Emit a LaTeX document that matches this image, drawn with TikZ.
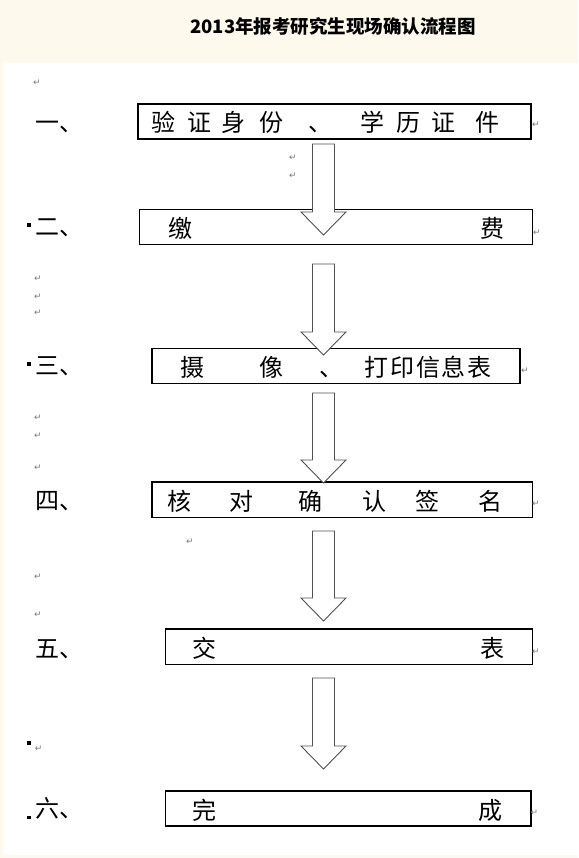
\documentclass[tikz,border=0pt]{standalone}
\usepackage{fontspec}
\usetikzlibrary{calc}
\newfontfamily\cjk{Noto Sans CJK SC}
\newfontfamily\symf{DejaVu Sans}
\definecolor{bgbeige}{HTML}{FDF9EC}
\definecolor{retgray}{HTML}{7A7A7A}
\definecolor{arrowgray}{HTML}{505050}
\newcommand\blkarrow[2]{%
  \draw[blockarrow] ($(#1)+(-11,0)$) -- ($(#1)+(11,0)$) -- ($(#2)+(11,-23)$)
    -- ($(#2)+(22.5,-23)$) -- (#2) -- ($(#2)+(-22.5,-23)$) -- ($(#2)+(-11,-23)$) -- cycle;}
\tikzset{
  boxst/.style={draw=black, line width=1.2pt, inner sep=0pt},
  ch/.style={font=\cjk\fontsize{24}{24}\selectfont, inner sep=0pt, anchor=base},
  lab/.style={font=\cjk\fontsize{24}{24}\selectfont, inner sep=0pt, anchor=base west},
  ttl/.style={font=\cjk\bfseries\fontsize{18.5}{18.5}\selectfont, inner sep=0pt, anchor=base},
  ret/.style={font=\symf\fontsize{9}{9}\selectfont, text=retgray, inner sep=0pt},
  sq/.style={fill=black, minimum size=3.2pt, inner sep=0pt, draw=none},
  blockarrow/.style={draw=arrowgray, line width=0.9pt, fill=white, line join=miter},
}
\begin{document}
\begin{tikzpicture}[x=1pt,y=-1pt]
\useasboundingbox (0,0) rectangle (578,858);
\fill[white] (0,0) rectangle (578,858);
\fill[bgbeige] (0,0) rectangle (578,63);
\fill[bgbeige] (0,0) rectangle (3,858);
\fill[bgbeige] (0,855) rectangle (578,858);

% title
\node[ttl] (title) at (333,34) {2013年报考研究生现场确认流程图};

% boxes
\node[boxst, minimum width=393pt, minimum height=35pt] (b1) at (334.5,121.5) {};
\node[boxst, minimum width=393pt, minimum height=35pt] (b2) at (336,227) {};
\node[boxst, minimum width=368pt, minimum height=35pt] (b3) at (336,365.8) {};
\node[boxst, minimum width=380.5pt, minimum height=35.5pt] (b4) at (342.25,499.75) {};
\node[boxst, minimum width=367pt, minimum height=35.3pt] (b5) at (349,646.6) {};
\node[boxst, minimum width=365.5pt, minimum height=35pt] (b6) at (348.25,808.5) {};

% arrows
\coordinate (a1s) at (323.5,144); \coordinate (a1e) at (323.5,235);
\coordinate (a2s) at (323.5,264); \coordinate (a2e) at (323.5,355);
\coordinate (a3s) at (323.5,393); \coordinate (a3e) at (323.5,483);
\coordinate (a4s) at (323.5,531); \coordinate (a4e) at (323.5,621);
\coordinate (a5s) at (323.5,678); \coordinate (a5e) at (323.5,769);
\blkarrow{a1s}{a1e}
\blkarrow{a2s}{a2e}
\blkarrow{a3s}{a3e}
\blkarrow{a4s}{a4e}
\blkarrow{a5s}{a5e}

% box 1 text
\node[ch] (t11) at (163,132) {验};
\node[ch] (t12) at (199,132) {证};
\node[ch] (t13) at (233,132) {身};
\node[ch] (t14) at (271,132) {份};
\node[ch] (t15) at (320,132) {、};
\node[ch] (t16) at (372,132) {学};
\node[ch] (t17) at (408,132) {历};
\node[ch] (t18) at (443,132) {证};
\node[ch] (t19) at (487,132) {件};
% box 2
\node[ch] (t21) at (180,237.5) {缴};
\node[ch] (t22) at (492,237.5) {费};
% box 3
\node[ch] (t31) at (192,376.3) {摄};
\node[ch] (t32) at (271,376.3) {像};
\node[ch] (t33) at (331,376.3) {、};
\node[ch] (t34) at (376,376.3) {打};
\node[ch] (t35) at (402,376.3) {印};
\node[ch] (t36) at (428,376.3) {信};
\node[ch] (t37) at (453,376.3) {息};
\node[ch] (t38) at (479,376.3) {表};
% box 4
\node[ch] (t41) at (179,510.3) {核};
\node[ch] (t42) at (241,510.3) {对};
\node[ch] (t43) at (310,510.3) {确};
\node[ch] (t44) at (374,510.3) {认};
\node[ch] (t45) at (427,510.3) {签};
\node[ch] (t46) at (490,510.3) {名};
% box 5
\node[ch] (t51) at (204,657) {交};
\node[ch] (t52) at (492,657) {表};
% box 6
\node[ch] (t61) at (204,819) {完};
\node[ch] (t62) at (490,819) {成};

% left labels
\node[lab] (l1) at (35,132) {一、};
\node[lab] (l2) at (35,235.7) {二、};
\node[lab] (l3) at (35,374.5) {三、};
\node[lab] (l4) at (35,509) {四、};
\node[lab] (l5) at (35,657) {五、};
\node[lab] (l6) at (35,817) {六、};

% small squares
\node[sq] (s1) at (29,225) {};
\node[sq] (s2) at (29,364) {};
\node[sq] (s3) at (29,743) {};
\node[sq] (s4) at (29,817.5) {};

% paragraph marks
\node[ret] (r1) at (37,83) {↵};
\node[ret] (r2) at (536,125) {↵};
\node[ret] (r3) at (293,158) {↵};
\node[ret] (r4) at (293,176) {↵};
\node[ret] (r5) at (537,233) {↵};
\node[ret] (r6) at (38,279) {↵};
\node[ret] (r7) at (38,297) {↵};
\node[ret] (r8) at (38,313) {↵};
\node[ret] (r9) at (525,371) {↵};
\node[ret] (r10) at (38,418) {↵};
\node[ret] (r11) at (38,436) {↵};
\node[ret] (r12) at (38,468) {↵};
\node[ret] (r13) at (536,504) {↵};
\node[ret] (r14) at (190,542) {↵};
\node[ret] (r15) at (38,577) {↵};
\node[ret] (r16) at (38,615) {↵};
\node[ret] (r17) at (536,652) {↵};
\node[ret] (r18) at (38.7,749) {↵};
\node[ret] (r19) at (534.5,812.5) {↵};
\end{tikzpicture}
\end{document}
